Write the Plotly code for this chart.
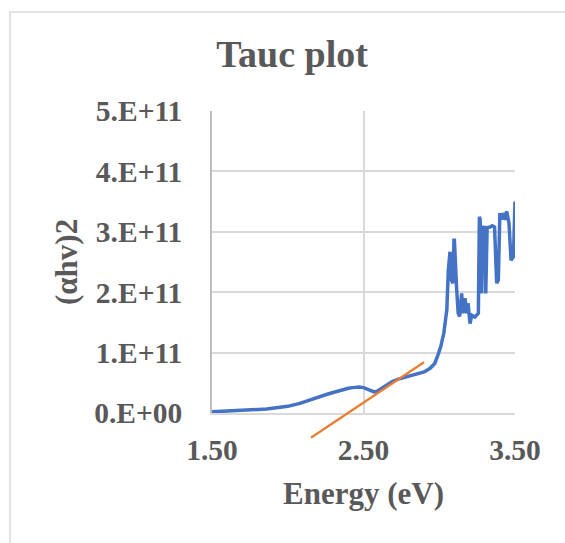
import plotly.graph_objects as go

# ---- data ----
energy = [1.50, 1.60, 1.70, 1.80, 1.86, 1.90, 2.00, 2.08, 2.15, 2.20,
          2.26, 2.30, 2.35, 2.40, 2.43, 2.47, 2.50, 2.54, 2.57, 2.59,
          2.62, 2.66, 2.69, 2.73, 2.79, 2.85, 2.90, 2.94, 2.97, 2.99,
          3.01, 3.03, 3.045, 3.05, 3.06, 3.071, 3.08, 3.09, 3.097, 3.10,
          3.115, 3.125, 3.135, 3.148, 3.155, 3.17, 3.18, 3.19, 3.203, 3.215,
          3.235, 3.258, 3.265, 3.27, 3.28, 3.285, 3.295, 3.30, 3.307, 3.316,
          3.335, 3.35, 3.365, 3.379, 3.39, 3.40, 3.41, 3.42, 3.435, 3.445,
          3.46, 3.474, 3.49, 3.50]
ahv2_e11 = [0.02, 0.03, 0.04, 0.05, 0.066, 0.08, 0.11, 0.16, 0.22, 0.27,
            0.31, 0.34, 0.38, 0.41, 0.42, 0.43, 0.42, 0.38, 0.35, 0.36,
            0.41, 0.48, 0.52, 0.56, 0.60, 0.64, 0.68, 0.74, 0.82, 0.95,
            1.10, 1.32, 1.68, 1.71, 2.37, 2.67, 2.20, 2.15, 2.86, 2.86,
            2.04, 1.65, 1.60, 1.98, 1.65, 1.90, 1.65, 1.82, 1.48, 1.62,
            1.59, 1.65, 3.25, 3.20, 1.98, 3.10, 2.80, 3.10, 1.98, 3.07,
            3.08, 3.10, 3.08, 2.15, 2.20, 3.31, 3.20, 3.31, 3.20, 3.34,
            3.15, 2.53, 2.59, 3.50]
ahv2 = [v * 1e11 for v in ahv2_e11]

fit_energy = [2.153, 2.899]
fit_ahv2 = [-0.41e11, 0.84e11]

y_tickvals = [0, 1e11, 2e11, 3e11, 4e11, 5e11]
y_ticktext = ["0.E+00", "1.E+11", "2.E+11", "3.E+11", "4.E+11", "5.E+11"]
x_tickvals = [1.5, 2.5, 3.5]

# ---- layout geometry ----
W, H = 565, 543
L, R, T = 212, 515, 111
Y0PIX = 413          # pixel of y=0
PB = 450             # bottom of extended paper area
ml, mr, mt, mb = L, W - R, T, H - PB
ph = PB - T
pw = R - L
d = (PB - Y0PIX) / ph
ymax = 5e11
scale = ymax / (1 - d)

grey = "#595959"
font_family = "Liberation Serif"

fig = go.Figure()
fig.add_trace(go.Scatter(x=energy, y=ahv2, mode="lines",
                         line=dict(color="#4472C4", width=3.5),
                         xaxis="x", yaxis="y", showlegend=False))
fig.add_trace(go.Scatter(x=fit_energy, y=fit_ahv2, mode="lines",
                         line=dict(color="#ED7D31", width=2.2),
                         xaxis="x2", yaxis="y2", showlegend=False))

tickfont = dict(family=font_family, size=29.5, color=grey, weight="bold")

fig.update_layout(
    width=W, height=H,
    margin=dict(l=ml, r=mr, t=mt, b=mb, pad=0),
    paper_bgcolor="white",
    plot_bgcolor="rgba(0,0,0,0)",
    title=dict(text="Tauc plot", x=292 / W, xref="container", xanchor="center",
               y=1 - 54 / H, yref="container", yanchor="middle",
               font=dict(family=font_family, size=38, color=grey, weight="bold")),
    xaxis=dict(domain=[0, 1], range=[1.5, 3.5], tickvals=x_tickvals, tickformat=".2f",
               anchor="y", showgrid=True, gridcolor="#d9d9d9", gridwidth=1.5,
               showline=True, linecolor="#d9d9d9", linewidth=1.5,
               zeroline=False, ticks="", tickfont=tickfont, ticklabelstandoff=10),
    yaxis=dict(domain=[d, 1], range=[0, ymax], tickvals=y_tickvals, ticktext=y_ticktext,
               anchor="x", showgrid=True, gridcolor="#d9d9d9", gridwidth=1.5,
               showline=True, linecolor="#bfbfbf", linewidth=1.5,
               zeroline=False, ticks="", tickfont=tickfont, ticklabelstandoff=22),
    xaxis2=dict(domain=[0, 1], range=[1.5, 3.5], anchor="y2", visible=False),
    yaxis2=dict(domain=[0, 1], range=[-d * scale, ymax], anchor="x2", visible=False),
    annotations=[
        dict(text="Energy (eV)", xref="paper", yref="paper", x=0.5, y=d,
             xanchor="center", yanchor="middle", yshift=-(493 - Y0PIX), showarrow=False,
             font=dict(family=font_family, size=31, color=grey, weight="bold")),
        dict(text="(αhv)2", xref="paper", yref="paper", x=0, xshift=-(L - 66),
             y=d + (1 - d) * 0.5, yshift=0, textangle=-90,
             xanchor="center", yanchor="middle", showarrow=False,
             font=dict(family=font_family, size=31, color=grey, weight="bold")),
    ],
    shapes=[
        dict(type="rect", xref="paper", yref="paper",
             x0=(10 - L) / pw, x1=(W + 20 - L) / pw,
             y0=(PB - (H + 20)) / ph, y1=(PB - 12) / ph,
             line=dict(color="#d9d9d9", width=1.5), fillcolor="rgba(0,0,0,0)", layer="below"),
    ],
)

fig.write_html("out.html")
